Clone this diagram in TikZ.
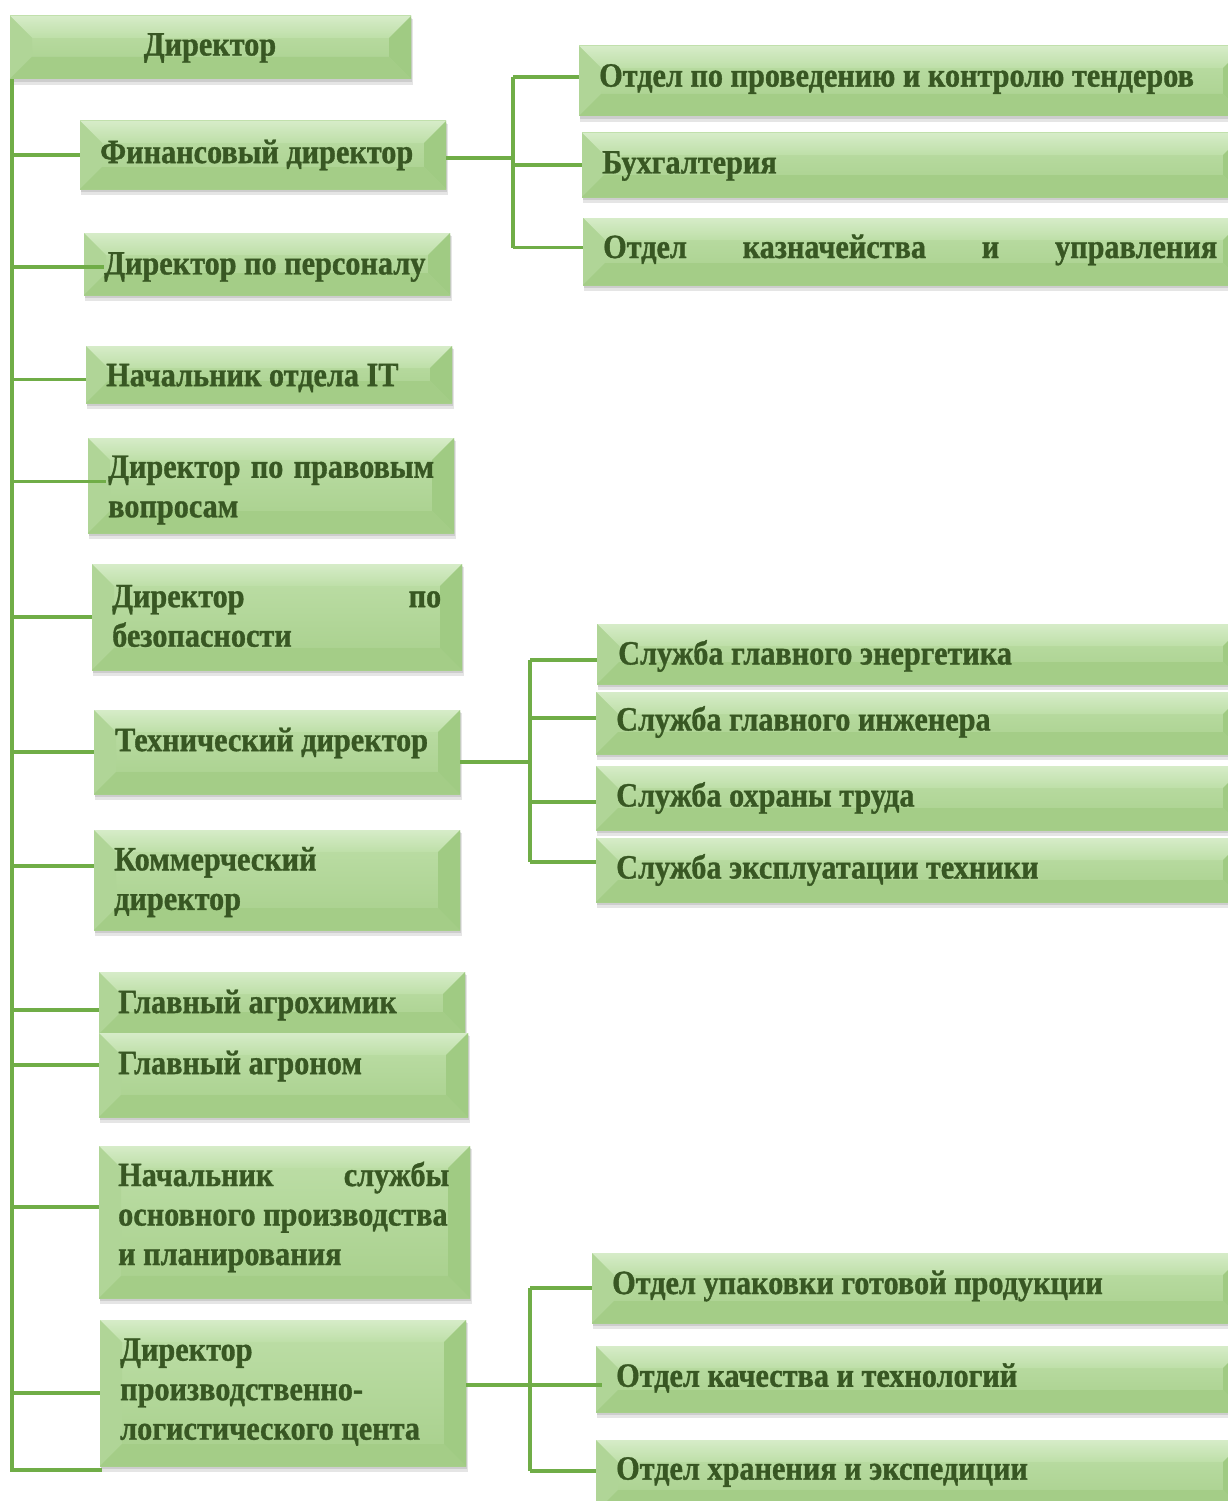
\documentclass[tikz,border=0pt]{standalone}
\usepackage{fontspec}
\setmainfont{Liberation Serif}[BoldFeatures={FakeStretch=0.89,FakeBold=1}]
\usetikzlibrary{fit,calc}
\definecolor{lineg}{RGB}{112,173,71}
\definecolor{txtg}{RGB}{56,87,35}
\definecolor{faceA}{RGB}{190,223,168}
\definecolor{faceB}{RGB}{167,207,139}
\definecolor{bevTop}{RGB}{214,236,200}
\definecolor{bevLeft}{RGB}{176,213,151}
\definecolor{bevRight}{RGB}{160,203,131}
\definecolor{bevBot}{RGB}{164,205,135}
\tikzset{
  bx/.style={inner sep=0pt, draw=none, top color=faceA, bottom color=faceB,
    path picture={
      \coordinate (bvNW) at (path picture bounding box.north west);
      \coordinate (bvNE) at (path picture bounding box.north east);
      \coordinate (bvSW) at (path picture bounding box.south west);
      \coordinate (bvSE) at (path picture bounding box.south east);
      \coordinate (bvINW) at ($(bvNW)+(22pt,-22pt)$);
      \coordinate (bvINE) at ($(bvNE)+(-22pt,-22pt)$);
      \coordinate (bvISW) at ($(bvSW)+(22pt,22pt)$);
      \coordinate (bvISE) at ($(bvSE)+(-22pt,22pt)$);
      \shade[top color=bevTop, bottom color=faceA] (bvNW)--(bvNE)--(bvINE)--(bvINW)--cycle;
      \fill[bevLeft] (bvNW)--(bvINW)--(bvISW)--(bvSW)--cycle;
      \fill[bevRight] (bvNE)--(bvINE)--(bvISE)--(bvSE)--cycle;
      \fill[bevBot] (bvSW)--(bvISW)--(bvISE)--(bvSE)--cycle;
    }},
  shd/.style={fill=black, opacity=.10},
  conn/.style={draw=lineg, line width=3.5pt},
  tx/.style={text=txtg, font=\fontsize{34}{39.5}\selectfont\bfseries, inner sep=0pt, align=left},
}
\newcommand\Bx[5]{%
  \fill[shd] (#2+1,#3+3) rectangle (#4+2,#5+6);
  \fill[shd] (#2+1,#3+2) rectangle (#4+1,#5+3);
  \node[bx, fit={(#2,#3) (#4,#5)}] (#1) {};
}
\begin{document}
\begin{tikzpicture}[x=1pt,y=-1pt]
\clip (0,0) rectangle (1228,1501);
\fill[white] (0,0) rectangle (1228,1501);
% boxes
\Bx{dir}{10}{16}{411}{79}
\Bx{fin}{80}{121}{446}{189}
\Bx{pers}{84}{233}{450}{295}
\Bx{it}{86}{346}{452}{403}
\Bx{law}{88}{438}{454}{533}
\Bx{sec}{92}{564}{462}{670}
\Bx{tech}{94}{710}{460}{794}
\Bx{com}{94}{830}{460}{930}
\Bx{chem}{99}{972}{465}{1034}
\Bx{agro}{99}{1033}{468}{1117}
\Bx{prod}{99}{1146}{470}{1298}
\Bx{plc}{100}{1320}{466}{1466}
\Bx{tend}{579}{46}{1245}{116}
\Bx{buh}{582}{133}{1245}{197}
\Bx{kazn}{583}{218}{1245}{285}
\Bx{en}{597}{624}{1245}{684}
\Bx{ing}{596}{692}{1245}{754}
\Bx{ohr}{596}{766}{1245}{830}
\Bx{expl}{596}{838}{1245}{902}
\Bx{pack}{592}{1253}{1245}{1323}
\Bx{qual}{596}{1346}{1245}{1412}
\Bx{stor}{596}{1440}{1245}{1512}
% connectors
\coordinate (trunk) at (12,1470);
\coordinate (stub) at (102,1470);
\coordinate (finbus) at (513,0);
\coordinate (techbus) at (530,0);
\coordinate (plcbus) at (530,0);
\draw[conn] (dir.south west -| trunk) -- (trunk) -- (stub);
\draw[conn] (fin.west -| trunk) -- (fin.west);
\draw[conn] ([yshift=-3pt]pers.west -| trunk) -- ([xshift=20pt,yshift=-3pt]pers.west);
\draw[conn] ([yshift=-5pt]it.west -| trunk) -- ([yshift=-5pt]it.west);
\draw[conn] ([yshift=4pt]law.west -| trunk) -- ([xshift=18pt,yshift=4pt]law.west);
\draw[conn] (sec.west -| trunk) -- (sec.west);
\draw[conn] (tech.west -| trunk) -- (tech.west);
\draw[conn] ([yshift=14pt]com.west -| trunk) -- ([yshift=14pt]com.west);
\draw[conn] ([yshift=-7pt]chem.west -| trunk) -- ([yshift=-7pt]chem.west);
\draw[conn] ([yshift=10pt]agro.west -| trunk) -- ([yshift=10pt]agro.west);
\draw[conn] ([yshift=15pt]prod.west -| trunk) -- ([yshift=15pt]prod.west);
\draw[conn] (plc.west -| trunk) -- (plc.west);
% finance group
\draw[conn] ([yshift=-3pt]fin.east) -- ([yshift=-3pt]fin.east -| finbus);
\draw[conn] ([yshift=4pt]tend.west -| finbus) -- ([yshift=4pt]kazn.west -| finbus);
\draw[conn] ([yshift=4pt]tend.west -| finbus) -- ([yshift=4pt]tend.west);
\draw[conn] (buh.west -| finbus) -- (buh.west);
\draw[conn] ([yshift=4pt]kazn.west -| finbus) -- ([yshift=4pt]kazn.west);
% technical group
\draw[conn, line width=4.5pt] ([yshift=-10pt]tech.east) -- ([yshift=-10pt]tech.east -| techbus);
\draw[conn] ([yshift=-6pt]en.west -| techbus) -- ([yshift=8pt]expl.west -| techbus);
\draw[conn] ([yshift=-6pt]en.west -| techbus) -- ([yshift=-6pt]en.west);
\draw[conn] ([yshift=5pt]ing.west -| techbus) -- ([yshift=5pt]ing.west);
\draw[conn] ([yshift=-4pt]ohr.west -| techbus) -- ([yshift=-4pt]ohr.west);
\draw[conn] ([yshift=8pt]expl.west -| techbus) -- ([yshift=8pt]expl.west);
% logistics group
\draw[conn] ([yshift=8pt]plc.east) -- ([yshift=8pt]plc.east -| plcbus);
\draw[conn] (pack.west -| plcbus) -- ([yshift=5pt]stor.west -| plcbus);
\draw[conn] (pack.west -| plcbus) -- (pack.west);
\draw[conn] ([yshift=-6pt]qual.west -| plcbus) -- ([xshift=6pt,yshift=-6pt]qual.west);
\draw[conn] ([yshift=5pt]stor.west -| plcbus) -- ([yshift=5pt]stor.west);
% texts
\node[tx, anchor=center] (dir-t) at (210,48) {Директор};
\node[tx, anchor=west] (fin-t) at (100,155) {Финансовый директор};
\node[tx, anchor=west] (pers-t) at (104,267) {Директор по персоналу};
\node[tx, anchor=west] (it-t) at (106,378) {Начальник отдела IT};
\node[tx, anchor=west] (law-t) at (108,490) {\makebox[326pt][s]{Директор по правовым}\\вопросам};
\node[tx, anchor=west] (sec-t) at (112,616) {\makebox[329pt][s]{Директор по}\\безопасности};
\node[tx, anchor=west] (tech-t) at (115,743) {Технический директор};
\node[tx, anchor=west] (com-t) at (114,882) {Коммерческий\\директор};
\node[tx, anchor=west] (chem-t) at (118,1005) {Главный агрохимик};
\node[tx, anchor=west] (agro-t) at (118,1066) {Главный агроном};
\node[tx, anchor=west] (prod-t) at (118,1217) {\makebox[331pt][s]{Начальник службы}\\основного производства\\и планирования};
\node[tx, anchor=west] (plc-t) at (120,1392) {Директор\\производственно-\\логистического цента};
\node[tx, anchor=west] (tend-t) at (599,79) {Отдел по проведению и контролю тендеров};
\node[tx, anchor=west] (buh-t) at (602,166) {Бухгалтерия};
\node[tx, anchor=west] (kazn-t) at (603,250) {\makebox[614pt][s]{Отдел казначейства и управления}};
\node[tx, anchor=west] (en-t) at (618,656) {Служба главного энергетика};
\node[tx, anchor=west] (ing-t) at (616,722) {Служба главного инженера};
\node[tx, anchor=west] (ohr-t) at (616,798) {Служба охраны труда};
\node[tx, anchor=west] (expl-t) at (616,870) {Служба эксплуатации техники};
\node[tx, anchor=west] (pack-t) at (612,1286) {Отдел упаковки готовой продукции};
\node[tx, anchor=west] (qual-t) at (616,1378) {Отдел качества и технологий};
\node[tx, anchor=west] (stor-t) at (616,1472) {Отдел хранения и экспедиции};
\end{tikzpicture}
\end{document}
